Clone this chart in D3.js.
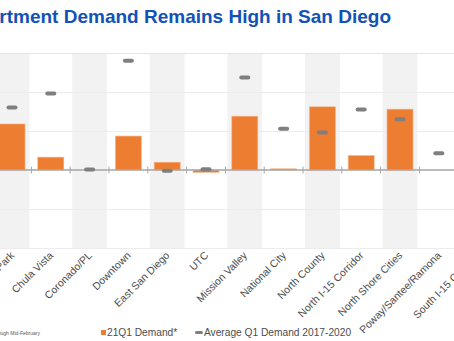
<!DOCTYPE html>
<html>
<head>
<meta charset="utf-8">
<script src="https://cdn.jsdelivr.net/npm/d3@7"></script>
<style>
  html, body { margin: 0; padding: 0; background: #fff; }
  svg { display: block; font-family: "Liberation Sans", Arial, sans-serif; }
</style>
</head>
<body>
<div id="chart"></div>
<script>
// submarkets, in slide order
const submarkets = [
  "Balboa Park", "Chula Vista", "Coronado/PL", "Downtown", "East San Diego", "UTC",
  "Mission Valley", "National City", "North County", "North I-15 Corridor",
  "North Shore Cities", "Poway/Santee/Ramona", "South I-15 Corridor"
];
// 21Q1 demand (units absorbed)
const demand21Q1 = [590, 165, 0, 435, 100, -30, 690, 15, 810, 185, 780, 0, null];
// average Q1 demand 2017-2020
const avgQ1Demand = [800, 980, 8, 1400, -10, 10, 1185, 530, 480, 775, 650, 215, null];
const gridTicks = [-1000, -500, 0, 500, 1000, 1500];

const W = 454, H = 341;

const svg = d3.select("#chart").append("svg")
  .attr("width", W)
  .attr("height", H);

// title (slide heading, left part runs off the frame)
svg.append("text")
  .attr("x", 391)
  .attr("y", 23)
  .attr("text-anchor", "end")
  .attr("font-size", "19px")
  .attr("font-weight", "bold")
  .attr("fill", "#1252b8")
  .text("Apartment Demand Remains High in San Diego");

const x = d3.scaleBand()
  .domain(submarkets)
  .range([-7.4, -7.4 + 38.8 * submarkets.length])
  .padding(0);

const y = d3.scaleLinear()
  .domain([-1000, 1500])
  .range([248, 53]);

const data = submarkets.map((name, i) => ({ name, demand: demand21Q1[i], avg: avgQ1Demand[i], i }));

// alternating column shading
svg.append("g")
  .selectAll("rect")
  .data(data.filter(d => d.i % 2 === 0))
  .join("rect")
  .attr("x", d => x(d.name) + 2)
  .attr("width", x.bandwidth() - 4)
  .attr("y", y(1500))
  .attr("height", y(-1000) - y(1500))
  .attr("fill", "#f2f2f2");

// horizontal gridlines
svg.append("g")
  .selectAll("line")
  .data(gridTicks.filter(t => t !== 0))
  .join("line")
  .attr("x1", 0)
  .attr("x2", W)
  .attr("y1", d => y(d) + 0.5)
  .attr("y2", d => y(d) + 0.5)
  .attr("stroke", d => d === 1500 ? "#e4e4e4" : "#ececec")
  .attr("stroke-width", 1);

const inner = d3.scaleBand()
  .domain(submarkets)
  .range(x.range())
  .paddingInner(0.33)
  .paddingOuter(0.165);

// 21Q1 bars
svg.append("g")
  .selectAll("rect")
  .data(data.filter(d => d.demand !== null && d.demand !== 0))
  .join("rect")
  .attr("x", d => inner(d.name))
  .attr("width", inner.bandwidth())
  .attr("y", d => y(Math.max(0, d.demand)))
  .attr("height", d => Math.abs(y(d.demand) - y(0)))
  .attr("fill", "#ed7d31")
  .attr("stroke", "#f5b48a")
  .attr("stroke-width", 0.6);

// zero axis with category boundary ticks
const axisG = svg.append("g")
  .attr("transform", `translate(0,${y(0)})`)
  .call(d3.axisBottom(x).tickSize(0).tickFormat(""));
axisG.select(".domain").remove();
axisG.append("line")
  .attr("x1", 0).attr("x2", W)
  .attr("stroke", "#a6a6a6")
  .attr("stroke-width", 1.5);
axisG.selectAll(".sep")
  .data(submarkets.slice(1))
  .join("line")
  .attr("class", "sep")
  .attr("x1", d => x(d))
  .attr("x2", d => x(d))
  .attr("y1", -3.5)
  .attr("y2", 3.5)
  .attr("stroke", "#a6a6a6")
  .attr("stroke-width", 1);

// average Q1 markers
svg.append("g")
  .selectAll("rect")
  .data(data.filter(d => d.avg !== null))
  .join("rect")
  .attr("x", d => x(d.name) + x.bandwidth() / 2 - 5.5)
  .attr("y", d => y(d.avg) - 2)
  .attr("width", 11)
  .attr("height", 4)
  .attr("rx", 2)
  .attr("fill", "#7f7f7f");

// rotated category labels
svg.append("g")
  .selectAll("text")
  .data(data)
  .join("text")
  .attr("transform", d => `translate(${x(d.name) + x.bandwidth() / 2 + 3},${256}) rotate(-45)`)
  .attr("text-anchor", "end")
  .attr("font-size", "10.5px")
  .attr("fill", "#4d4d4d")
  .text(d => d.name);

// legend
const legend = svg.append("g").attr("transform", "translate(0,336)");
legend.append("rect")
  .attr("x", 101).attr("y", -6).attr("width", 5).attr("height", 5)
  .attr("fill", "#ed7d31");
legend.append("text")
  .attr("x", 107).attr("y", 0)
  .attr("font-size", "10.2px").attr("fill", "#4d4d4d")
  .text("21Q1 Demand*");
legend.append("rect")
  .attr("x", 195).attr("y", -5).attr("width", 8).attr("height", 3).attr("rx", 1.5)
  .attr("fill", "#7f7f7f");
legend.append("text")
  .attr("x", 204).attr("y", 0)
  .attr("font-size", "10.2px").attr("fill", "#4d4d4d")
  .text("Average Q1 Demand 2017-2020");

// footnote
svg.append("text")
  .attr("x", 40).attr("y", 335)
  .attr("text-anchor", "end")
  .attr("font-size", "5px").attr("fill", "#595959")
  .text("*Through Mid-February");
</script>
</body>
</html>
